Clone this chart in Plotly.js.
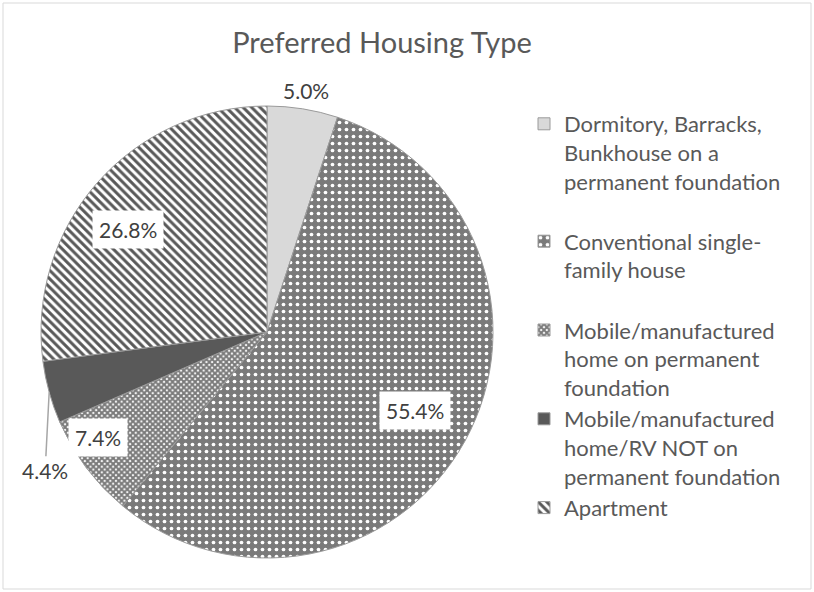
<!DOCTYPE html>
<html>
<head>
<meta charset="utf-8">
<script src="https://cdn.plot.ly/plotly-3.0.1.min.js"></script>
<style>html,body{margin:0;padding:0;background:#fff;}#chart{width:814px;height:592px;}</style>
</head>
<body>
<div id="chart"></div>
<script>
// ---- data ----
const categories = [
  "Dormitory, Barracks,<br>Bunkhouse on a<br>permanent foundation",
  "Conventional single-<br>family house",
  "Mobile/manufactured<br>home on permanent<br>foundation",
  "Mobile/manufactured<br>home/RV NOT on<br>permanent foundation",
  "Apartment"
];
const values = [5.0, 55.4, 7.4, 4.4, 26.8];
const chartTitle = "Preferred Housing Type";

// ---- style ----
const W = 814, H = 592;
const cx = 267, cy = 332, R = 226;
const legendPad = ["<br> ", "<br> ", "", "", ""];
const fillColors = ["#d9d9d9", "#7a7a7a", "#ffffff", "#595959", "#ffffff"];
const patShape = ["", ".", "x", "", "\\"];
const patBg = ["#d9d9d9", "#7a7a7a", "#ffffff", "#595959", "#ffffff"];
const patFg = ["#d9d9d9", "#ffffff", "#7a7a7a", "#595959", "#595959"];
const patSize = [8, 7, 4, 8, 6];
const patSolid = [0.3, 0.22, 0.75, 0.3, 0.5];
// label placement: type, radial fraction, angle nudge (deg)
const labelPlace = [
  {type: "out", f: 1.08, d: 0},
  {type: "in", f: 0.74, d: -1},
  {type: "in", f: 0.88, d: 5},
  {type: "leader", f: 1.0, d: 0, ay: 78},
  {type: "in", f: 0.765, d: -5}
];
const fontFam = "Lato, 'Open Sans', sans-serif";

const total = values.reduce((a, b) => a + b, 0);
let cum = 0;
const annotations = [];
values.forEach((v, i) => {
  const mid = (cum + v / 2) / total * 360;
  cum += v;
  const p = labelPlace[i];
  const th = (mid + p.d) * Math.PI / 180;
  const px = cx + p.f * R * Math.sin(th);
  const py = cy - p.f * R * Math.cos(th);
  const txt = v.toFixed(1) + "%";
  const a = {
    xref: "paper", yref: "paper", x: px / W, y: 1 - py / H,
    xanchor: "center", yanchor: "middle",
    text: txt, showarrow: false,
    font: {family: fontFam, size: 21, color: "#404040"}
  };
  if (p.type === "in") {
    a.bgcolor = "#ffffff";
    a.borderpad = 6;
  }
  if (p.type === "leader") {
    a.showarrow = true;
    a.arrowhead = 0;
    a.arrowwidth = 1.5;
    a.arrowcolor = "#a6a6a6";
    a.ax = -4;
    a.ay = p.ay;
    a.standoff = 0;
  }
  annotations.push(a);
});

const trace = {
  type: "pie",
  labels: categories.map((c, i) => c + legendPad[i]),
  values: values,
  sort: false,
  direction: "clockwise",
  rotation: 0,
  textinfo: "none",
  hoverinfo: "label+value",
  domain: {x: [(cx - R) / W, (cx + R) / W], y: [1 - (cy + R) / H, 1 - (cy - R) / H]},
  marker: {
    colors: fillColors,
    line: {color: "#9a9a9a", width: 1},
    pattern: {shape: patShape, bgcolor: patBg, fgcolor: patFg, fgopacity: 1, size: patSize, solidity: patSolid, fillmode: "replace"}
  }
};

const layout = {
  width: W, height: H,
  margin: {l: 0, r: 0, t: 0, b: 0},
  paper_bgcolor: "#ffffff",
  title: {
    text: chartTitle, x: 382 / W, xanchor: "center", y: 1 - 43 / H, yanchor: "middle",
    font: {family: fontFam, size: 29, color: "#595959"}
  },
  showlegend: true,
  legend: {
    x: 524 / W, xanchor: "left", y: 1 - 103 / H, yanchor: "top",
    valign: "top",
    font: {family: fontFam, size: 22, color: "#595959"},
    bgcolor: "rgba(0,0,0,0)"
  },
  annotations: annotations,
  shapes: [{
    type: "rect", xref: "paper", yref: "paper",
    x0: 3 / W, x1: 811 / W, y0: 3 / H, y1: 589 / H,
    line: {color: "#d9d9d9", width: 1}, fillcolor: "rgba(0,0,0,0)", layer: "below"
  }]
};

Plotly.newPlot("chart", [trace], layout, {displayModeBar: false, staticPlot: true});
</script>
</body>
</html>
